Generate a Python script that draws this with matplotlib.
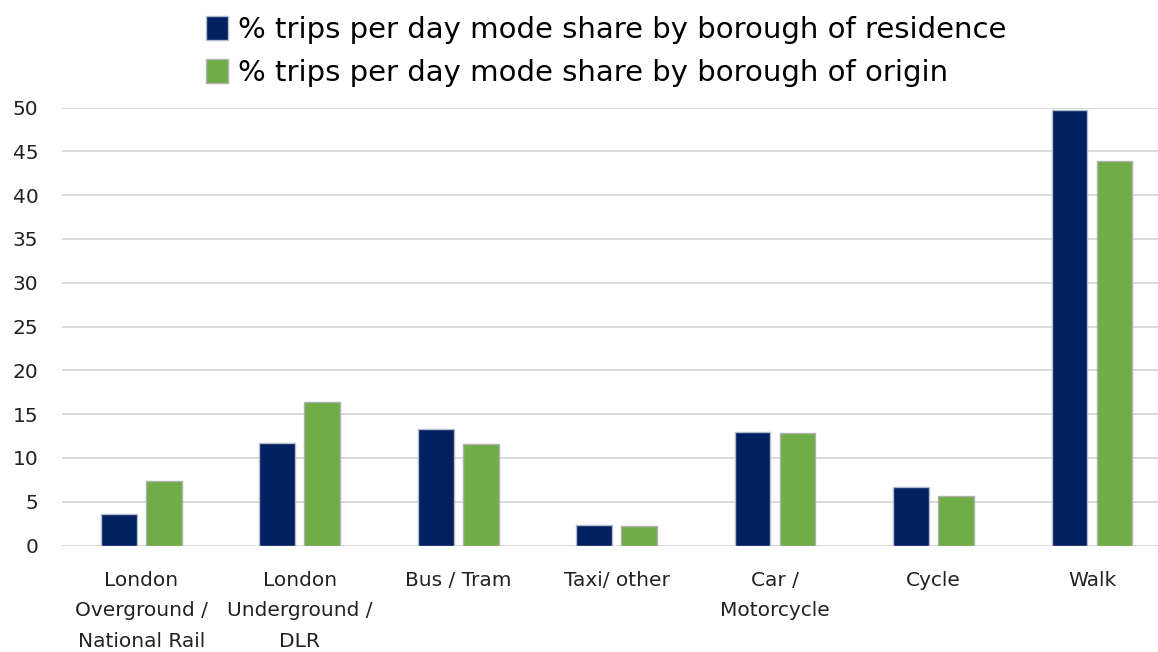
import numpy as np
import matplotlib.pyplot as plt

plt.rcParams['font.family'] = ['DejaVu Sans']

# data
modes = ['London\nOverground /\nNational Rail', 'London\nUnderground /\nDLR', 'Bus / Tram',
         'Taxi/ other', 'Car /\nMotorcycle', 'Cycle', 'Walk']
residence = [3.6, 11.7, 13.3, 2.3, 13.0, 6.7, 49.7]
origin = [7.4, 16.4, 11.6, 2.2, 12.8, 5.6, 43.9]
series_names = ['% trips per day mode share by borough of residence',
                '% trips per day mode share by borough of origin']
yticks = [0, 5, 10, 15, 20, 25, 30, 35, 40, 45, 50]

navy = '#002060'
green = '#70AD47'

fig = plt.figure(figsize=(11.58, 6.52), dpi=100)
ax = fig.add_axes([62/1158, 1-545.5/652, 1-62/1158, (545.5-107.5)/652])

x = np.arange(len(modes))
w = 0.225
b1 = ax.bar(x - 0.142, residence, w, color=navy, edgecolor='#b4bccb', linewidth=1, label=series_names[0], zorder=3)
b2 = ax.bar(x + 0.142, origin, w, color=green, edgecolor='#b0b0b0', linewidth=1, label=series_names[1], zorder=3)

ax.set_xlim(-0.5, 6.416)
ax.set_ylim(0, 50)
ax.set_yticks(yticks)
ax.set_xticks(x)
ax.set_xticklabels(modes, linespacing=1.78, va='top')
ax.tick_params(axis='both', length=0, labelsize=14.5, colors='#222222')
ax.tick_params(axis='y', pad=17)
ax.tick_params(axis='x', pad=18)
ax.yaxis.grid(True, color='#d9d9d9', linewidth=1.4, zorder=0)
for s in ax.spines.values():
    s.set_visible(False)

fig.legend(handles=[b1, b2], labels=series_names, loc='upper left', bbox_to_anchor=(190/1158, 1.0),
           frameon=False, fontsize=21, handlelength=0.75, handleheight=0.85, handletextpad=0.35,
           labelspacing=0.52, borderaxespad=0.15)

fig.savefig('out.png', dpi=100)
